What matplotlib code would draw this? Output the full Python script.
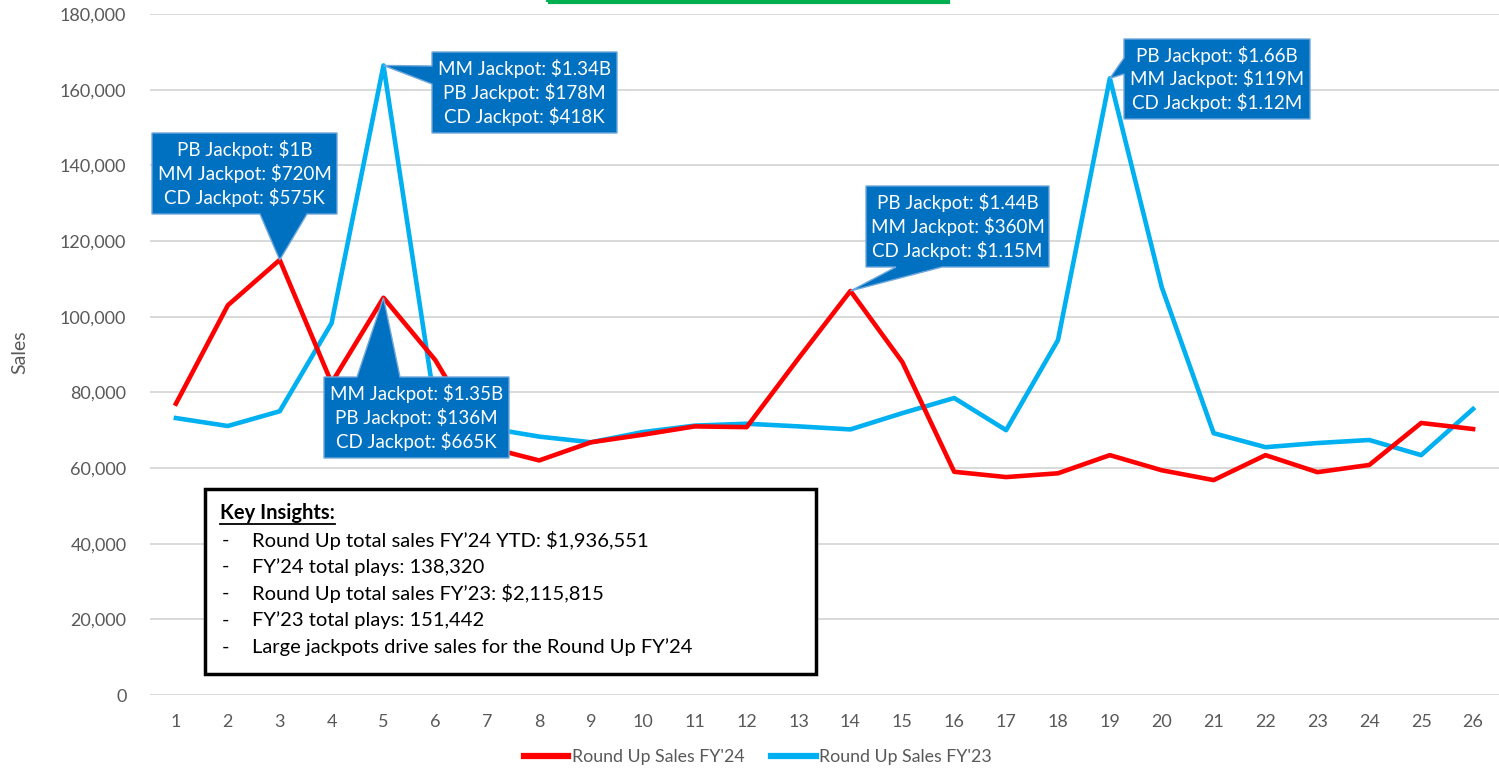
import matplotlib
matplotlib.use("Agg")
import matplotlib.pyplot as plt
from matplotlib.patches import Polygon, Rectangle

# weekly Round Up sales
weeks = list(range(1, 27))
sales_fy24 = [77000, 103000, 115000, 82500, 105000, 88500, 65500, 62000, 66800, 68800,
              71000, 70800, 89000, 106800, 88000, 59000, 57600, 58600, 63400, 59400,
              56800, 63400, 58900, 60800, 71900, 70300]
sales_fy23 = [73200, 71100, 75000, 98300, 166400, 76000, 70600, 68300, 66800, 69500,
              71200, 71700, 71000, 70200, 74500, 78500, 70000, 93800, 163000, 107800,
              69200, 65500, 66600, 67400, 63400, 75600]
y_ticks = [0, 20000, 40000, 60000, 80000, 100000, 120000, 140000, 160000, 180000]

insights = [
    "Round Up total sales FY\u201924 YTD: $1,936,551",
    "FY\u201924 total plays: 138,320",
    "Round Up total sales FY\u201923: $2,115,815",
    "FY\u201923 total plays: 151,442",
    "Large jackpots drive sales for the Round Up FY\u201924",
]

# (series, week, text lines, outline in pixels with None where the tip goes)
callouts = [
    ("fy24", 3, ["PB Jackpot: $1B", "MM Jackpot: $720M", "CD Jackpot: $575K"],
     [(152, 133), (337, 133), (337, 214), (307, 214), None, (260, 214), (152, 214)]),
    ("fy23", 5, ["MM Jackpot: $1.34B", "PB Jackpot: $178M", "CD Jackpot: $418K"],
     [(432, 52), (617, 52), (617, 133), (432, 133), (432, 84), None, (432, 66)]),
    ("fy24", 5, ["MM Jackpot: $1.35B", "PB Jackpot: $136M", "CD Jackpot: $665K"],
     [(324, 377), (357, 377), None, (400, 377), (509, 377), (509, 458), (324, 458)]),
    ("fy24", 14, ["PB Jackpot: $1.44B", "MM Jackpot: $360M", "CD Jackpot: $1.15M"],
     [(866, 186), (1049, 186), (1049, 267), (942, 267), None, (896, 267), (866, 267)]),
    ("fy23", 19, ["PB Jackpot: $1.66B", "MM Jackpot: $119M", "CD Jackpot: $1.12M"],
     [(1124, 39), (1310, 39), (1310, 119), (1124, 119), (1124, 74), None, (1124, 58)]),
]

W, H = 1499, 779
red = "#FF0000"
cyan = "#00B0F0"
blue_box = "#0070C0"
grey_text = "#595959"
font = ["Lato", "DejaVu Sans"]

fig = plt.figure(figsize=(W / 100, H / 100), dpi=100)
ax = fig.add_axes([150 / W, 84 / H, (W - 150) / W, (695 - 14) / H])

ax.plot(weeks, sales_fy24, color=red, lw=3.3, label="Round Up Sales FY'24", zorder=3)
ax.plot(weeks, sales_fy23, color=cyan, lw=3.3, label="Round Up Sales FY'23", zorder=2)

ax.set_xlim(0.5, 26.5)
ax.set_ylim(0, 180000)
ax.set_xticks(weeks)
ax.set_yticks(y_ticks)
ax.set_yticklabels([f"{v:,}" for v in y_ticks])
ax.grid(axis="y", color="#D9D9D9", lw=1.4)
ax.set_axisbelow(True)
for s in ax.spines.values():
    s.set_visible(False)
ax.tick_params(length=0, labelsize=13, labelcolor=grey_text)
ax.tick_params(axis="x", pad=14)
ax.tick_params(axis="y", pad=17)
for lab in ax.get_xticklabels() + ax.get_yticklabels():
    lab.set_family(font)
fig.text(20 / W, (H - 352) / H, "Sales", rotation=90, fontsize=14, color=grey_text,
         family=font, ha="center", va="center")

leg = ax.legend(loc="center", bbox_to_anchor=(758 / W, (H - 757) / H), bbox_transform=fig.transFigure,
                ncol=2, frameon=False, handlelength=2.5, handletextpad=0.2,
                columnspacing=1.5, prop={"family": font, "size": 12.8})
for t in leg.get_texts():
    t.set_color(grey_text)
for h in leg.get_lines():
    h.set_linewidth(4.5)


def to_data(x, y):
    return ax.transData.inverted().transform((x, H - y))


series = {"fy24": sales_fy24, "fy23": sales_fy23}
for key, wk, lines, outline in callouts:
    tip = (wk, series[key][wk - 1])
    verts = [tip if p is None else to_data(*p) for p in outline]
    ax.add_patch(Polygon(verts, closed=True, facecolor=blue_box, edgecolor="#6FA8DC",
                         lw=1.0, zorder=5, clip_on=False))
    pts = [p for p in outline if p is not None]
    cx = (min(p[0] for p in pts) + max(p[0] for p in pts)) / 2
    cy = (min(p[1] for p in pts) + max(p[1] for p in pts)) / 2
    ax.text(cx, H - cy, "\n".join(lines), transform=None, ha="center", va="center",
            color="white", fontsize=13.5, family=font, linespacing=1.3, zorder=6)

# key insights box
fig.patches.append(Rectangle((205 / W, (H - 674) / H), (816 - 205) / W, (674 - 489) / H,
                             transform=fig.transFigure, facecolor="white", edgecolor="black",
                             lw=2.5, zorder=7))
title = fig.text(220 / W, (H - 513) / H, "Key Insights:", fontsize=14.5, fontweight="bold",
                 family=font, va="center", zorder=8)
renderer = fig.canvas.get_renderer()
bb = title.get_window_extent(renderer)
fig.add_artist(plt.Line2D([bb.x0 / W, bb.x1 / W], [(bb.y0 - 1) / H, (bb.y0 - 1) / H],
                          transform=fig.transFigure, color="black", lw=1.3, zorder=8))
for i, line in enumerate(insights):
    yy = (H - (540 + i * 26.7)) / H
    fig.text(222 / W, yy, "-", fontsize=14.5, family=font, va="center", zorder=8)
    fig.text(252 / W, yy, line, fontsize=14.5, family=font, va="center", zorder=8)

# green frame cut off at the top
fig.patches.append(Rectangle((548 / W, (H - 1.5) / H), 400 / W, 30 / H, transform=fig.transFigure,
                             fill=False, edgecolor="#00B050", lw=3, clip_on=False))

fig.savefig("out.png", dpi=100)
